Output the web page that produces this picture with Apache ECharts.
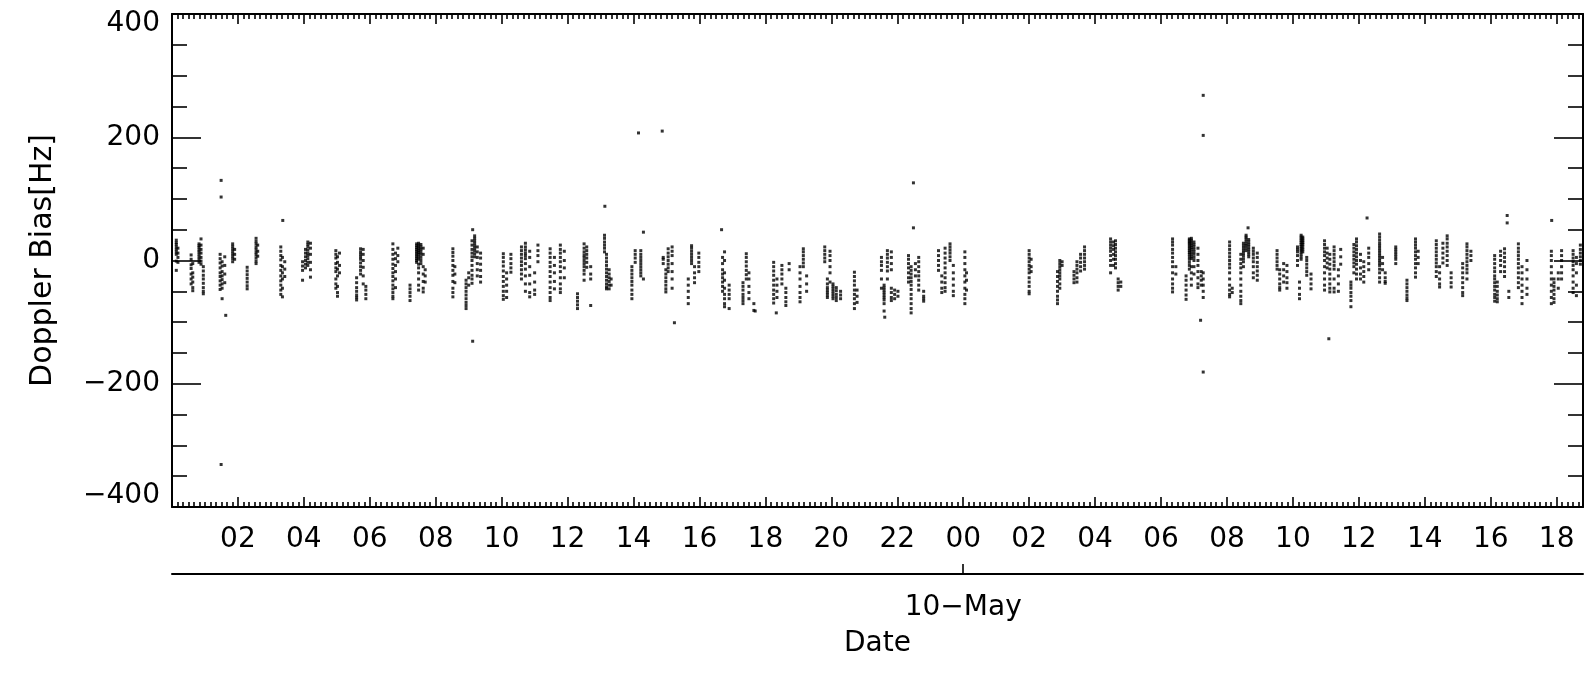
<!DOCTYPE html>
<html>
<head>
<meta charset="utf-8">
<script src="https://cdn.jsdelivr.net/npm/echarts@6/dist/echarts.min.js"></script>
<style>
html, body { margin: 0; padding: 0; background: #fff; }
#container { width: 1589px; height: 675px; }
</style>
</head>
<body>
<div id="container"></div>
<script>
// hours are counted from 9 May 00:00 (may10Hours from 10 May 00:00)
var may9Hours = [0.13, 0.18, 0.58, 0.63, 0.82, 0.88, 0.95, 1.46, 1.52, 1.60, 1.84, 1.90, 2.28, 2.55, 2.60,
    3.30, 3.35, 3.42, 3.96, 4.05, 4.12, 4.20, 4.97, 5.02, 5.08, 5.60, 5.72, 5.80, 5.88, 6.70, 6.78, 6.85,
    7.22, 7.42, 7.48, 7.55, 7.62, 7.68, 8.52, 8.58, 8.92, 9.00, 9.10, 9.18, 9.26, 9.36, 10.05, 10.15, 10.28,
    10.60, 10.72, 10.85, 11.00, 11.10, 11.47, 11.60, 11.78, 11.90, 12.30, 12.50, 12.58, 12.70, 13.12, 13.18,
    13.26, 13.32, 13.95, 14.05, 14.22, 14.30, 14.90, 14.98, 15.05, 15.17, 15.66, 15.76, 15.85, 15.98, 16.70,
    16.76, 16.90, 17.32, 17.42, 17.50, 17.65, 18.25, 18.35, 18.50, 18.62, 18.72, 19.05, 19.15, 19.25, 19.80,
    19.88, 19.96, 20.05, 20.15, 20.28, 20.70, 20.78, 21.52, 21.60, 21.70, 21.82, 21.92, 22.02, 22.34, 22.42,
    22.55, 22.65, 22.80, 23.25, 23.35, 23.45, 23.60, 23.70];

var may9Values = [
    [33, 29, 26, 22, 18, 14, 10, -1, -16], [20, 12, 5, -3],
    [9, 2, -7, -13, -22, -30, -38], [-5, -20, -27, -35, -44, -49],
    [27, 24, 21, 17, 14, 10, 6, 2, -3], [35, 25, 18, 12, 5, -1, -6], [-10, -17, -24, -30, -37, -44, -50, -54],
    [10, 3, -4, -12, -20, -26, -33, -40, -47], [-2, -9, -18, -25, -31, -38, -45, -62], [6, -8, -22, -36],
    [27, 23, 19, 15, 11, 7, 3, -2], [18, 10, 2],
    [-11, -17, -23, -29, -35, -41, -46],
    [36, 31, 27, 22, 18, 13, 9, 4, -1, -5], [25, 15, 7],
    [22, 15, 8, 1, -8, -16, -25, -33, -40, -48, -55], [5, -10, -20, -30, -45, -59], [-2, -14, -26],
    [-2, -9, -16, -32], [18, 12, 6, 0, -6, -12], [30, 26, 22, 17, 12, 8, 3, -3, -8], [28, 20, 10, -3, -15, -27],
    [16, 10, 4, -5, -12, -18, -30, -38, -45], [6, -3, -14, -25, -42, -52, -58], [12, -8, -20],
    [-28, -36, -44, -50, -56, -60, -64], [19, 14, 10, 6, 2, -4, -10, -16, -22], [18, 10, 0, -11, -25, -38],
    [-42, -48, -55, -62],
    [27, 18, 10, 2, -6, -13, -20, -26, -33, -40, -46, -52, -58, -62], [12, 3, -8, -18, -30, -44], [20, 8, -2],
    [-40, -46, -52, -58, -65],
    [27, 24, 21, 18, 15, 12, 9, 6, 3, 0, -3], [28, 25, 22, 19, 16, 13, 10, 6, 2, -6, -12, -20, -30, -40, -48],
    [26, 22, 18, 14, 10, 5, 0, -5], [20, 10, -10, -22, -34, -45, -51], [-15, -25, -35],
    [19, 13, 7, 0, -8, -16, -24, -34, -45, -52, -59], [-10, -22, -36],
    [-32, -38, -44, -50, -56, -62, -68, -73, -78], [-20, -28, -40],
    [32, 25, 18, 12, 6, 0, -8, -16, -24, -30, -37], [40, 36, 32, 28, 24, 20, 16, 11, 6],
    [22, 14, 5, -5, -15, -25], [12, 4, -6, -16, -26, -35],
    [11, 5, -2, -9, -17, -26, -34, -42, -50, -57, -63], [-20, -30, -40, -50, -60], [10, 3, -5, -12, -19],
    [22, 16, 10, 4, -2, -8, -15, -22, -30], [28, 22, 17, 12, 8, 3, -5, -14, -25, -38, -50],
    [15, 5, -10, -24, -38, -52, -59], [-20, -35, -48, -55], [25, 16, 8, -2],
    [19, 12, 5, -3, -10, -18, -26, -35, -44, -52, -60, -65], [5, -8, -20, -34, -46],
    [25, 18, 12, 5, -2, -10, -18, -28, -38, -46, -52], [15, 0, -12, -28],
    [-54, -60, -66, -72, -78],
    [27, 20, 14, 9, 5, 0, -5, -10, -16, -22, -32], [22, 16, 10, 4, -3, -11], [-10, -22, -30, -73],
    [41, 36, 30, 25, 20, 14], [10, 4, -2, -8, -14, -20, -26, -32, -38, -43, -46],
    [-15, -22, -28, -34, -40, -46], [-30, -40],
    [-10, -16, -22, -28, -34, -40, -48, -55, -62], [16, 10, 4, -3], [16, 10, 5, 0, -5, -10, -15, -20, -25], [46, -30],
    [5, 2, -5], [-15, -22, -28, -34, -40, -46, -51], [19, 12, 6, 0, -6, -12, -18], [22, 15, 8, -5, -18, -30, -45],
    [-30, -40, -50, -60, -70], [24, 20, 15, 10, 5, 0, -5], [-10, -20, -28, -36], [12, 5, -3, -10, -18],
    [5, -5, -15, -22, -28, -35, -42, -50], [14, 0, -20, -32, -45, -55, -62, -70, -75], [-40, -48, -55, -62, -78],
    [-36, -42, -48, -55, -60, -65, -70], [11, 5, -2, -9, -16, -23, -30], [-20, -30, -42, -52, -62], [-70, -81],
    [-3, -10, -17, -24, -32, -40, -48, -55, -62, -69], [-30, -40, -50, -60], [-8, -15, -22, -30, -38],
    [-45, -52, -60, -67, -73], [-5, -15],
    [-10, -20, -30, -42, -52, -60, -67], [19, 14, 8, 2, -4, -10], [-25, -38, -50],
    [22, 16, 10, 4, -2], [-30, -38, -44, -48, -52, -56, -60], [15, 8, 0, -10, -20, -35],
    [-38, -42, -46, -50, -54, -58, -62], [-44, -49, -55, -60, -65], [-50, -56, -62],
    [-19, -26, -33, -40, -48, -55, -62, -70, -78], [-48, -58, -68],
    [5, -2, -8, -16, -30, -45], [-40, -44, -48, -52, -56, -60, -64, -70, -82], [16, 10, 4, -3, -10, -17, -30],
    [14, 5, -5, -15, -45, -52, -60, -65], [-48, -55, -62], [-50, -58],
    [8, 2, -5, -12, -20, -28, -35], [-10, -16, -22, -28, -34, -40, -47, -55, -62, -70, -78, -85], [-5, -15, -25],
    [5, -2, -10, -18, -25, -32, -40, -48], [-50, -58, -62, -66],
    [16, 8, 0, -8, -16], [-25, -35, -45, -52], [20, 12, 4, -4, -12, -20, -28, -36, -44, -50],
    [27, 22, 17, 12, 6, 0], [-8, -20, -30, -40, -50, -57]
];

var may10Hours = [0.05, 0.10, 2.00, 2.06, 2.86, 2.93, 3.00, 3.36, 3.45, 3.56, 3.68, 4.47, 4.56, 4.62, 4.70, 4.78,
    6.35, 6.45, 6.76, 6.86, 6.92, 7.00, 7.12, 7.22, 7.28, 8.08, 8.16, 8.42, 8.50, 8.58, 8.66, 8.80, 8.92,
    9.52, 9.60, 9.72, 9.82, 10.14, 10.20, 10.25, 10.30, 10.42, 10.55, 10.96, 11.04, 11.12, 11.25, 11.38, 11.45,
    11.76, 11.85, 11.93, 12.05, 12.15, 12.30, 12.63, 12.72, 12.80, 13.12, 13.46, 13.72, 13.80, 14.35, 14.45,
    14.55, 14.68, 14.80, 15.15, 15.28, 15.40, 16.12, 16.20, 16.30, 16.42, 16.55, 16.84, 16.95, 17.10, 17.84,
    17.92, 18.05, 18.15, 18.50, 18.60, 18.72];

var may10Values = [
    [14, 5, -5, -15, -25, -35, -45, -55, -62, -70], [-20, -32, -48],
    [16, 10, 4, -2, -8, -14, -20, -28, -35, -42, -50, -54], [2, -10, -18],
    [-18, -26, -34, -42, -50, -58, -64, -70], [0, -5, -10, -15, -20, -25, -30, -38, -45], [-2, -8],
    [-18, -24, -30, -36], [-2, -8, -14, -20, -28, -35], [10, 4, -3, -10, -17], [22, 16, 10, 4, -2, -8, -14],
    [35, 30, 25, 20, 15, 8, 0, -8, -20], [30, 24, 18, 10, 2, -8], [32, 26, 20, 14, 8, 2, -5, -12],
    [-30, -36, -42, -48], [-35, -42],
    [35, 30, 25, 18, 12, 5, -2, -10, -20, -30, -38, -45, -51], [-10, -22],
    [-25, -32, -40, -48, -56, -63], [35, 33, 30, 28, 25, 22, 19, 16, 13, 10, 6, 2, -3, -8, -14],
    [36, 33, 30, 27, 24, 21, 18, 14, 10, 6, 3, -10, -20, -30, -40], [30, 26, 22, 18, 14, 10, 5, 0, -10, -22],
    [20, 10, 0, -8, -18, -28, -38, -44], [-18, -25, -32, -40], [-20, -30, -40, -50, -60],
    [30, 24, 18, 12, 6, 0, -6, -12, -20, -30, -40, -48, -55, -59], [-45, -52],
    [10, 2, -5, -12, -20, -30, -40, -50, -58, -65, -70], [28, 24, 20, 16, 12, 8, 3, -2, -10],
    [41, 38, 35, 31, 27, 24, 20, 16], [34, 30, 26, 22, 18, 14, 10, 6], [20, 15, 10, 4, -2, -10, -20, -28],
    [12, 5, -3, -10, -17, -24, -32],
    [16, 10, 4, -2, -8, -14], [-15, -22, -30, -38, -44, -48], [-5, -15, -25, -35], [-8, -18, -28, -36, -45],
    [22, 18, 14, 8, 0, -8], [-35, -45, -55, -62], [41, 38, 35, 32, 29, 26, 23, 20, 17, 14, 10, 6, 2],
    [38, 35, 32, 29, 26, 22, 18, 14], [5, 0, -6, -12, -18, -24], [-22, -30, -38, -46],
    [32, 26, 20, 14, 8, 0, -10, -20, -30, -40, -48], [20, 12, 4, -4, -12],
    [10, 2, -6, -14, -22, -30, -38, -45, -51], [22, 16, 10, 4, -2, -8, -14, -30, -45, -51],
    [-15, -25, -38, -50], [18, 6, -6],
    [-35, -40, -45, -52, -58, -65, -75], [26, 20, 14, 8, 2, -4, -10, -20],
    [35, 30, 24, 18, 12, 6, 0, -6, -14, -22, -30], [10, 0, -12, -22, -30], [-2, -10, -18, -26, -35],
    [20, 12, 5, -5, -15],
    [43, 38, 33, 28, 24, 20, 16, 12, 8, 4, 0, -4, -8, -14, -20, -28, -35], [5, -5, -15], [-20, -28, -34, -37],
    [22, 18, 14, 10, 6, 2, -5], [-32, -38, -44, -50, -56, -61, -65],
    [35, 30, 25, 20, 14, 8, 2, -5, -12, -20, -27], [15, 5, -5],
    [32, 26, 20, 14, 8, 2, -4, -10, -18, -26], [-10, -20, -30, -38, -43], [28, 20, 12, 4, -4],
    [40, 35, 28, 22, 15, 8, 0, -8], [-20, -28, -36, -43],
    [-5, -12, -20, -28, -36, -44, -52, -57], [27, 22, 16, 10, 4, -2, -8, -14, -20, -30], [15, 8, 0],
    [8, 2, -5, -12, -18, -25, -30, -36, -42, -48, -55, -60, -66], [-35, -42, -50, -56, -62, -67],
    [15, 8, 0, -8, -18], [19, 12, 5, -2, -10, -18, -26], [-50, -60],
    [27, 20, 14, 8, 2, -5, -12, -20, -28, -36, -44], [-10, -20, -30, -40, -50, -60, -70], [0, -15, -30, -45, -55],
    [15, 8, 0, -10, -20, -30, -40, -50, -60, -70], [-30, -36, -42, -48, -55, -62, -68], [-20, -30, -45],
    [16, 8, 0, -10, -20, -30],
    [16, 10, 4, -2, -8, -15, -25, -35, -45, -52], [5, -5, -20, -40, -57], [25, 18, 12, 6, 0, -6]
];

var outlierHours = [1.49, 1.49, 3.36, 9.12, 13.13, 14.15, 14.87, 16.67, 22.49, 22.49, 31.28, 31.28, 32.64,
    36.25, 40.50, 40.50, 41.85, 1.63, 1.49, 9.12, 15.24, 17.69, 18.33, 21.62, 31.20, 31.28, 35.09];
var outlierValues = [130, 103, 65, 50, 88, 207, 210, 50, 126, 53, 268, 203, 53,
    69, 73, 61, 65, -89, -331, -131, -101, -82, -85, -92, -97, -181, -127];

var tickHours = [2, 4, 6, 8, 10, 12, 14, 16, 18, 20, 22, 24, 26, 28, 30, 32, 34, 36, 38, 40, 42];
var tickLabels = ['02', '04', '06', '08', '10', '12', '14', '16', '18', '20', '22',
    '00', '02', '04', '06', '08', '10', '12', '14', '16', '18'];
var dayHours = [24];
var dayLabels = ['10\u2212May'];

var startHour = 0;
var endHour = 42.8;

var points = [];
may9Hours.forEach(function (h, i) {
    may9Values[i].forEach(function (v) { points.push([h, v]); });
});
may10Hours.forEach(function (h, i) {
    may10Values[i].forEach(function (v) { points.push([h + 24, v]); });
});
outlierHours.forEach(function (h, i) { points.push([h, outlierValues[i]]); });

// minor ticks every 10 minutes
var minorHours = [];
for (var m = 10; m < endHour * 60; m += 10) {
    if (m % 120 !== 0) minorHours.push(m / 60);
}

var font = 'DejaVu Sans';
var black = '#000';
var lineStyle = { color: black, width: 2 };
var tickStyle = { color: black, width: 1.6 };

function hourAxis(position, ticks, len, showLine) {
    return {
        type: 'value', gridIndex: 0, position: position,
        min: startHour, max: endHour,
        axisLine: { show: showLine, onZero: false, lineStyle: lineStyle },
        axisTick: { show: true, inside: true, length: len, customValues: ticks, lineStyle: tickStyle },
        axisLabel: { show: false },
        splitLine: { show: false }
    };
}

var bottomMajor = hourAxis('bottom', tickHours, 10, true);
bottomMajor.axisLabel = {
    show: true, customValues: tickHours, margin: 19,
    fontSize: 28, fontFamily: font, color: black,
    formatter: function (v) { return tickLabels[tickHours.indexOf(v)]; }
};

var dateAxis = {
    type: 'value', gridIndex: 0, position: 'bottom', offset: 67,
    min: startHour, max: endHour,
    axisLine: { show: true, onZero: false, lineStyle: lineStyle },
    axisTick: { show: true, inside: true, length: 10, customValues: dayHours, lineStyle: tickStyle },
    axisLabel: {
        show: true, customValues: dayHours, margin: 20,
        fontSize: 28, fontFamily: font, color: black,
        formatter: function (v) { return dayLabels[dayHours.indexOf(v)]; }
    },
    splitLine: { show: false },
    name: 'Date', nameLocation: 'middle', nameGap: 56,
    nameTextStyle: { fontSize: 28, fontFamily: font, color: black }
};

function fmtY(v) {
    var s = v < 0 ? '\u2212' + (-v) : String(v);
    if (v === 400) return '{top|' + s + '}';
    if (v === -400) return '{bot|' + s + '}';
    return '{mid|' + s + '}';
}
var yText = { fontSize: 28, fontFamily: font, color: black };

function valueAxis(position, labels) {
    return {
        type: 'value', gridIndex: 0, position: position,
        min: -400, max: 400, interval: 200,
        axisLine: { show: true, onZero: false, lineStyle: lineStyle },
        axisTick: { show: true, inside: true, length: 29, lineStyle: tickStyle },
        minorTick: { show: true, splitNumber: 4, length: 15, lineStyle: tickStyle },
        axisLabel: labels ? {
            show: true, margin: 12, formatter: fmtY,
            rich: {
                top: Object.assign({ padding: [20, 0, 0, 0] }, yText),
                bot: Object.assign({ padding: [0, 0, 22, 0] }, yText),
                mid: yText
            }
        } : { show: false },
        splitLine: { show: false },
        minorSplitLine: { show: false }
    };
}

var leftAxis = valueAxis('left', true);
leftAxis.name = 'Doppler Bias[Hz]';
leftAxis.nameLocation = 'middle';
leftAxis.nameGap = 114;
leftAxis.nameTextStyle = { fontSize: 30, fontFamily: font, color: black };

var myChart = echarts.init(document.getElementById('container'));
var option = {
    backgroundColor: '#fff',
    animation: false,
    grid: { left: 172, right: 6, top: 14, bottom: 168, containLabel: false, outerBoundsMode: 'none' },
    xAxis: [
        bottomMajor,
        hourAxis('bottom', minorHours, 5, false),
        hourAxis('top', tickHours, 10, true),
        hourAxis('top', minorHours, 5, false),
        dateAxis
    ],
    yAxis: [leftAxis, valueAxis('right', false)],
    series: [{
        type: 'scatter',
        xAxisIndex: 0,
        yAxisIndex: 0,
        symbol: 'rect',
        symbolSize: 3,
        itemStyle: { color: black },
        silent: true,
        data: points
    }]
};
myChart.setOption(option);
</script>
</body>
</html>
